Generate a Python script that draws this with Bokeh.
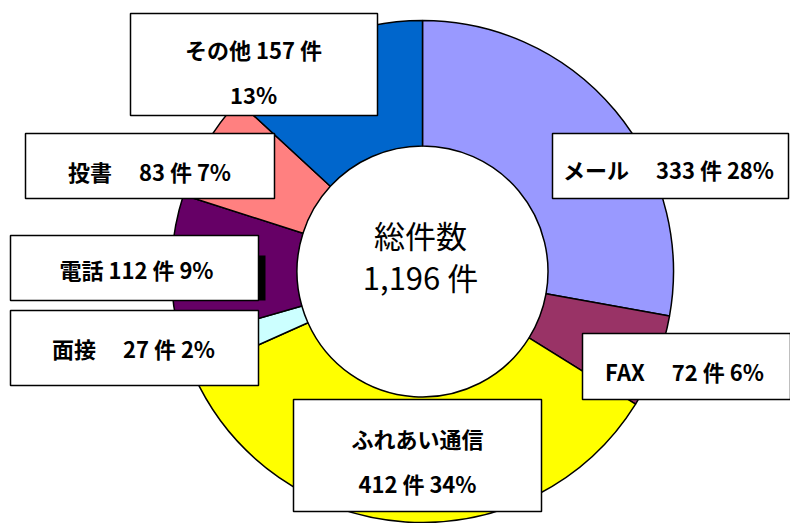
import math
from bokeh.plotting import figure
from bokeh.models import Range1d, ColumnDataSource
from bokeh.core.properties import value
from bokeh.embed import file_html
from bokeh.resources import INLINE

# ---- data ----
categories = ["メール", "FAX", "ふれあい通信", "面接", "電話", "投書", "その他"]
counts = [333, 72, 412, 27, 112, 83, 157]
percents = [28, 6, 34, 2, 9, 7, 13]
total = sum(counts)  # 1,196
colors = ["#9999FF", "#993366", "#FFFF00", "#CCFFFF", "#660066", "#FF8080", "#0066CC"]

# ---- layout (image pixel coordinates, y measured from top) ----
W, H = 790, 523
CX, CY = 422, 271
R_OUT, R_IN = 251, 125.5

def fy(y):
    return H - y

# label boxes: left, right, top, bottom
boxes = {
    "メール": (552, 788, 133, 198),
    "FAX": (582, 790, 333, 399),
    "ふれあい通信": (293, 541, 399, 511),
    "面接": (10, 258, 310, 385),
    "電話": (10, 258, 235, 300),
    "投書": (25, 274, 133, 198),
    "その他": (130, 377, 13, 115),
}
# label lines: (text template, x centre, y centre)
def lines_for(i):
    c, n, pc = categories[i], counts[i], percents[i]
    if c == "メール":
        return [(f"{c}\u3000 {n} 件 {pc}%", 668, 168)]
    if c == "FAX":
        return [(f"{c}\u3000 {n} 件 {pc}%", 684, 370)]
    if c == "ふれあい通信":
        return [(c, 417, 437), (f"{n} 件 {pc}%", 417, 482)]
    if c == "面接":
        return [(f"{c}\u3000 {n} 件 {pc}%", 133, 347)]
    if c == "電話":
        return [(f"{c} {n} 件 {pc}%", 136, 268)]
    if c == "投書":
        return [(f"{c}\u3000 {n} 件 {pc}%", 149, 170)]
    return [(f"{c} {n} 件", 253, 48), (f"{pc}%", 253, 93)]

# ---- wedge angles (clockwise from 12 o'clock) ----
starts, ends = [], []
cum = 0
for n in counts:
    starts.append(math.pi / 2 - 2 * math.pi * cum / total)
    cum += n
    ends.append(math.pi / 2 - 2 * math.pi * cum / total)

p = figure(width=W, height=H, x_range=Range1d(0, W), y_range=Range1d(0, H),
           output_backend="svg", toolbar_location=None, min_border=0)
p.axis.visible = False
p.grid.visible = False
p.outline_line_color = None
p.background_fill_color = "white"
p.border_fill_color = "white"

src = ColumnDataSource(dict(start=starts, end=ends, color=colors))
p.annular_wedge(x=CX, y=fy(CY), inner_radius=R_IN, outer_radius=R_OUT,
                start_angle="start", end_angle="end", direction="clock",
                fill_color="color", line_color="black", line_width=1.5, source=src)

# small shadow piece next to the 電話 box
p.quad(left=[258], right=[265], top=[fy(255)], bottom=[fy(300)],
       fill_color="black", line_color=None)

font = value("Noto Sans CJK JP")
for i, c in enumerate(categories):
    l, r, t, b = boxes[c]
    p.quad(left=[l], right=[r], top=[fy(t)], bottom=[fy(b)],
           fill_color="white", line_color="black", line_width=1.5)
    for txt, x, y in lines_for(i):
        p.text(x=[x], y=[fy(y)], text=[txt], text_font=font, text_font_style="bold",
               text_font_size="22px", text_align="center", text_baseline="middle",
               text_color="black")

p.text(x=[420], y=[fy(234)], text=["総件数"], text_font=font,
       text_font_size="31px", text_align="center", text_baseline="middle", text_color="black")
p.text(x=[420], y=[fy(276)], text=[f"{total:,} 件"], text_font=font,
       text_font_size="31px", text_align="center", text_baseline="middle", text_color="black")

open("out.html", "w").write(file_html(p, INLINE))
